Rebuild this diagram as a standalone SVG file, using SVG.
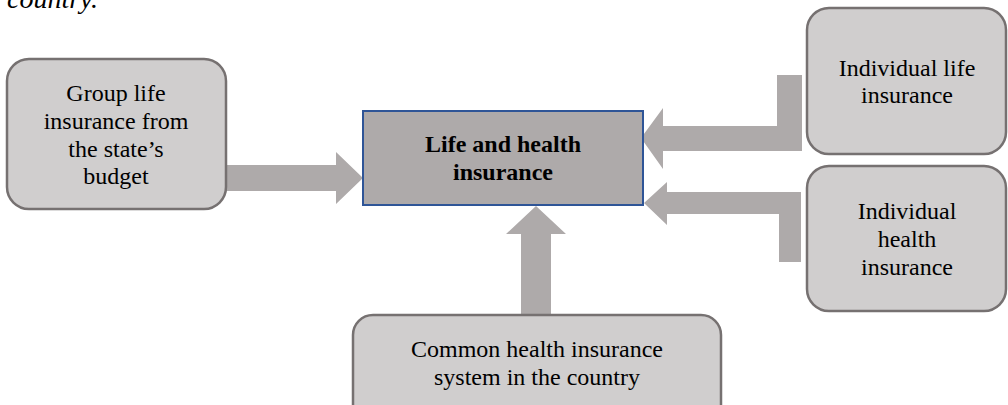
<svg xmlns="http://www.w3.org/2000/svg" width="1008" height="405" viewBox="0 0 1008 405">
<style>
.box{fill:#d0cece;stroke:#767171;stroke-width:2.5}
.main{fill:#aeaaaa;stroke:#2f5597;stroke-width:2}
.arr{fill:#aeaaaa;stroke:none}
text{font-family:"Liberation Serif","Times New Roman",serif;font-size:24px;fill:#000;text-anchor:middle}
.b{font-weight:bold}
</style>
<rect width="1008" height="405" fill="#fff"/>
<text x="7" y="8" style="text-anchor:start;font-style:italic;font-size:28px">country.</text>
<g id="connectors">
<polygon class="arr" points="226,165 336,165 336,152 363,178 336,204 336,191 226,191"/>
<polygon class="arr" points="802,75 777,75 777,126 663,126 663,108 641,138 663,169 663,151 802,151"/>
<polygon class="arr" points="801,262 779,262 779,214 667,214 667,225 644,203 667,182 667,192 801,192"/>
<polygon class="arr" points="521,315 551,315 551,234 566,234 536,206 506,234 521,234"/>
</g>
<g id="main">
<rect class="main" x="363" y="111" width="280" height="94"/>
<text class="b" x="503" y="152">Life and health</text>
<text class="b" x="503" y="180">insurance</text>
</g>
<g id="group-life">
<rect class="box" x="7" y="59" width="219" height="150" rx="22"/>
<text x="116" y="101">Group life</text>
<text x="116" y="129">insurance from</text>
<text x="116" y="157">the state’s</text>
<text x="116" y="184">budget</text>
</g>
<g id="individual-life">
<rect class="box" x="807" y="8" width="199" height="146" rx="22"/>
<text x="907" y="76">Individual life</text>
<text x="907" y="103">insurance</text>
</g>
<g id="individual-health">
<rect class="box" x="807" y="166" width="199" height="145" rx="22"/>
<text x="907" y="219">Individual</text>
<text x="907" y="247">health</text>
<text x="907" y="275">insurance</text>
</g>
<g id="common-health">
<rect class="box" x="353" y="315" width="368" height="110" rx="20"/>
<text x="537" y="357">Common health insurance</text>
<text x="537" y="385">system in the country</text>
</g>
</svg>
